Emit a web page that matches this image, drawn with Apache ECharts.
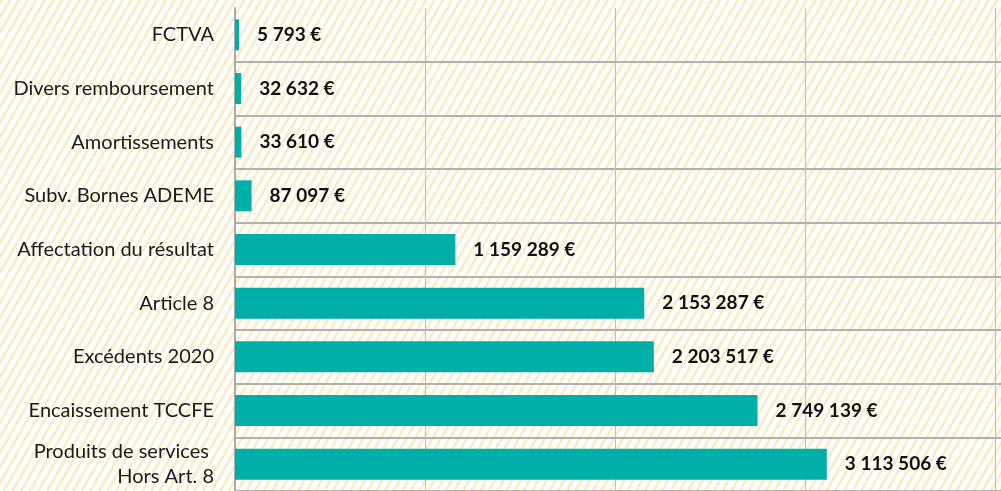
<!DOCTYPE html>
<html>
<head>
<meta charset="utf-8">
<script src="https://cdn.jsdelivr.net/npm/echarts@6/dist/echarts.min.js"></script>
<style>
  html, body { margin: 0; padding: 0; }
  #chart {
    width: 1001px;
    height: 491px;
    /* fond hachuré */
    background: repeating-linear-gradient(120deg, #fdebc6 0px, #fdebc6 2.5px, #ffffff 2.5px, #ffffff 7.5px);
  }
</style>
</head>
<body>
<div id="chart"></div>
<script>
// recettes, de haut en bas
const categories = [
  "FCTVA",
  "Divers remboursement",
  "Amortissements",
  "Subv. Bornes ADEME",
  "Affectation du résultat",
  "Article 8",
  "Excédents 2020",
  "Encaissement TCCFE",
  "Produits de services \nHors Art. 8"
];
const values = [5793, 32632, 33610, 87097, 1159289, 2153287, 2203517, 2749139, 3113506];

function euros(v) {
  return String(v).replace(/\B(?=(\d{3})+(?!\d))/g, " ") + " €";
}

const myChart = echarts.init(document.getElementById("chart"));
const option = {
  backgroundColor: "transparent",
  animation: false,
  grid: { left: 235, right: 0, top: 8, bottom: -4, containLabel: false },
  xAxis: {
    type: "value",
    min: 0,
    max: 4030000,
    interval: 1000000,
    axisLine: { show: false },
    axisTick: { show: false },
    axisLabel: { show: false },
    splitLine: { show: true, lineStyle: { color: "#bdbdbd", width: 1 } }
  },
  yAxis: {
    type: "category",
    inverse: true,
    data: categories,
    axisLine: { show: true, lineStyle: { color: "#aaaaaa", width: 2 } },
    axisTick: { show: false },
    axisLabel: {
      margin: 21,
      color: "#1a1a1a",
      fontSize: 20,
      fontFamily: "Lato",
      lineHeight: 25,
      align: "right"
    },
    splitLine: { show: true, showMinLine: false, lineStyle: { color: "#b0b0b0", width: 2 } }
  },
  series: [
    {
      type: "bar",
      data: values,
      barWidth: 31,
      barMinHeight: 4,
      itemStyle: { color: "#00afa8" },
      label: {
        show: true,
        position: "right",
        distance: 18,
        color: "#111",
        fontSize: 19,
        fontWeight: "bold",
        fontFamily: "Lato",
        formatter: (p) => euros(p.value)
      }
    }
  ]
};
myChart.setOption(option);
</script>
</body>
</html>
